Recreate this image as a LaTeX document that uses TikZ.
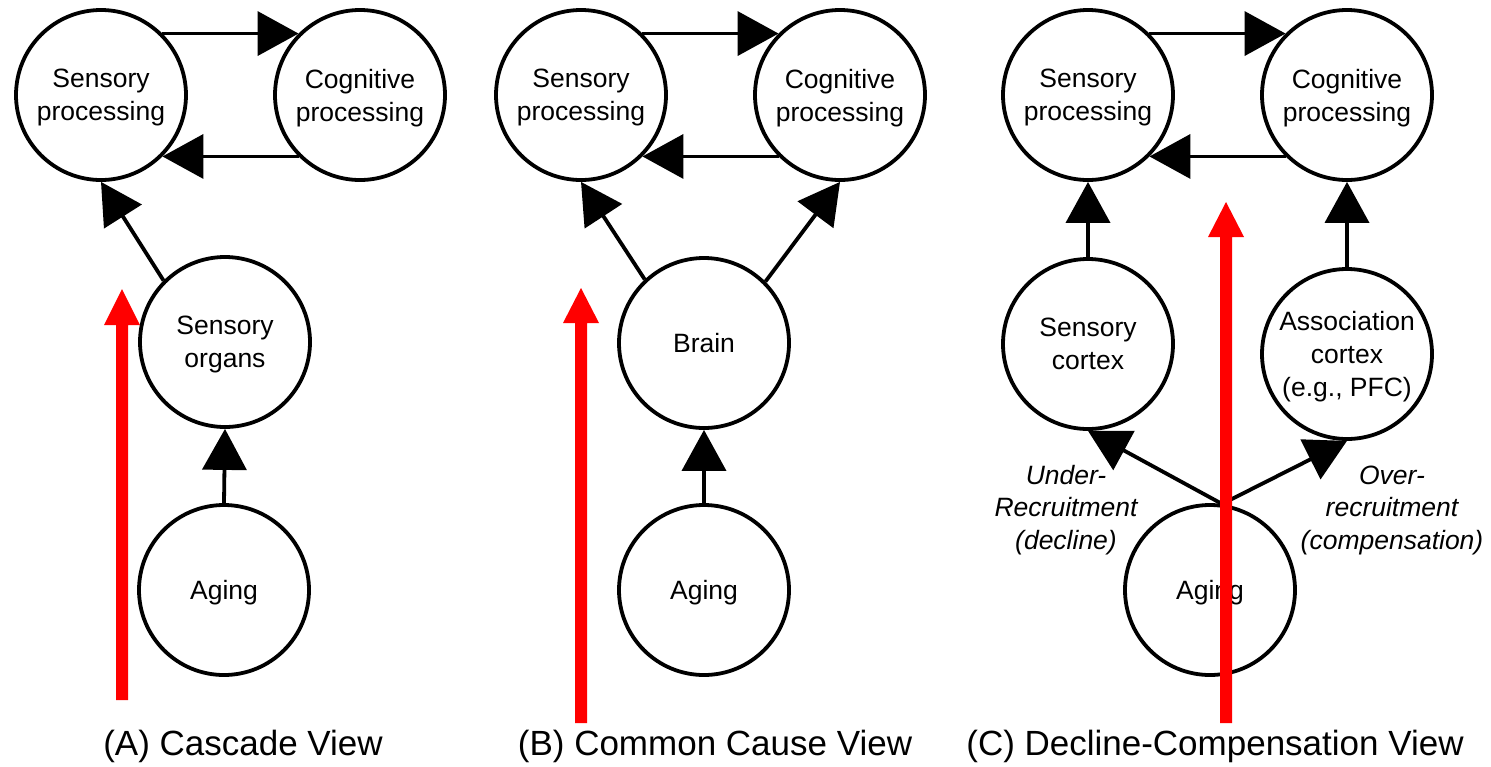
\documentclass[tikz,border=0pt]{standalone}
\usepackage{fontspec}
\setmainfont{Liberation Sans}
\usetikzlibrary{arrows.meta}
\begin{document}
\begin{tikzpicture}[x=1pt,y=-1pt,
  circ/.style={draw,circle,line width=3.8pt,minimum size=170pt,inner sep=0pt,align=center,
    text depth=0pt,font=\fontsize{26.5}{33}\selectfont},
  conn/.style={line width=3.8pt,-{Triangle[length=41pt,width=44pt]}},
  lab/.style={align=center,font=\fontsize{26.5}{32.5}\selectfont\itshape},
  captxt/.style={anchor=base,font=\fontsize{35}{42}\selectfont},
  redarrow/.style={fill=red}]
\useasboundingbox (0,0) rectangle (1491,766);
\fill[white] (0,0) rectangle (1491,766);
% Panel A
\node[circ] (spA) at (101,95) {Sensory\\processing};
\node[circ] (cpA) at (360,95) {Cognitive\\processing};
\node[circ] (soA) at (225,342) {Sensory\\organs};
\node[circ] (agA) at (224,590) {Aging};
\draw[conn] (spA.45) -- (cpA.135);
\draw[conn] (cpA.-135) -- (spA.-45);
\draw[conn] (soA.135) -- (spA.south);
\draw[conn] (agA.north) -- (soA.south);
\node[captxt] (capA) at (243,755) {(A) Cascade View};
% Panel B
\node[circ] (spB) at (581,95) {Sensory\\processing};
\node[circ] (cpB) at (840,95) {Cognitive\\processing};
\node[circ] (brB) at (704,343) {Brain};
\node[circ] (agB) at (704,590) {Aging};
\draw[conn] (spB.45) -- (cpB.135);
\draw[conn] (cpB.-135) -- (spB.-45);
\draw[conn] (brB.133) -- (spB.south);
\draw[conn] (brB.45) -- (cpB.south);
\draw[conn] (agB.north) -- (brB.south);
\node[captxt] (capB) at (715,755) {(B) Common Cause View};
% Panel C
\node[circ] (spC) at (1088,95) {Sensory\\processing};
\node[circ] (cpC) at (1347,95) {Cognitive\\processing};
\node[circ] (scC) at (1088,344) {Sensory\\cortex};
\node[circ] (acC) at (1347,354) {Association\\cortex\\(e.g., PFC)};
\node[circ] (agC) at (1210,590) {Aging};
\draw[conn] (spC.45) -- (cpC.135);
\draw[conn] (cpC.-135) -- (spC.-45);
\draw[conn] (scC.north) -- (spC.south);
\draw[conn] (acC.north) -- (cpC.south);
\draw[conn] (agC.82) -- (scC.south);
\draw[conn] (agC.82) -- (acC.south);
\node[lab] (under) at (1066,510) {Under-\\Recruitment\\(decline)};
\node[lab] (over) at (1392,510) {Over-\\recruitment\\(compensation)};
\node[captxt] (capC) at (1215,755) {(C) Decline-Compensation View};
% Red arrows
\fill[redarrow] (116,700) -- (116,325) -- (104,325) -- (122,289) -- (140,325) -- (128,325) -- (128,700) -- cycle;
\fill[redarrow] (575,723) -- (575,323) -- (563,323) -- (581,288) -- (599,323) -- (587,323) -- (587,723) -- cycle;
\fill[redarrow] (1220,723) -- (1220,237) -- (1208,237) -- (1226,202) -- (1244,237) -- (1232,237) -- (1232,723) -- cycle;
\end{tikzpicture}
\end{document}
